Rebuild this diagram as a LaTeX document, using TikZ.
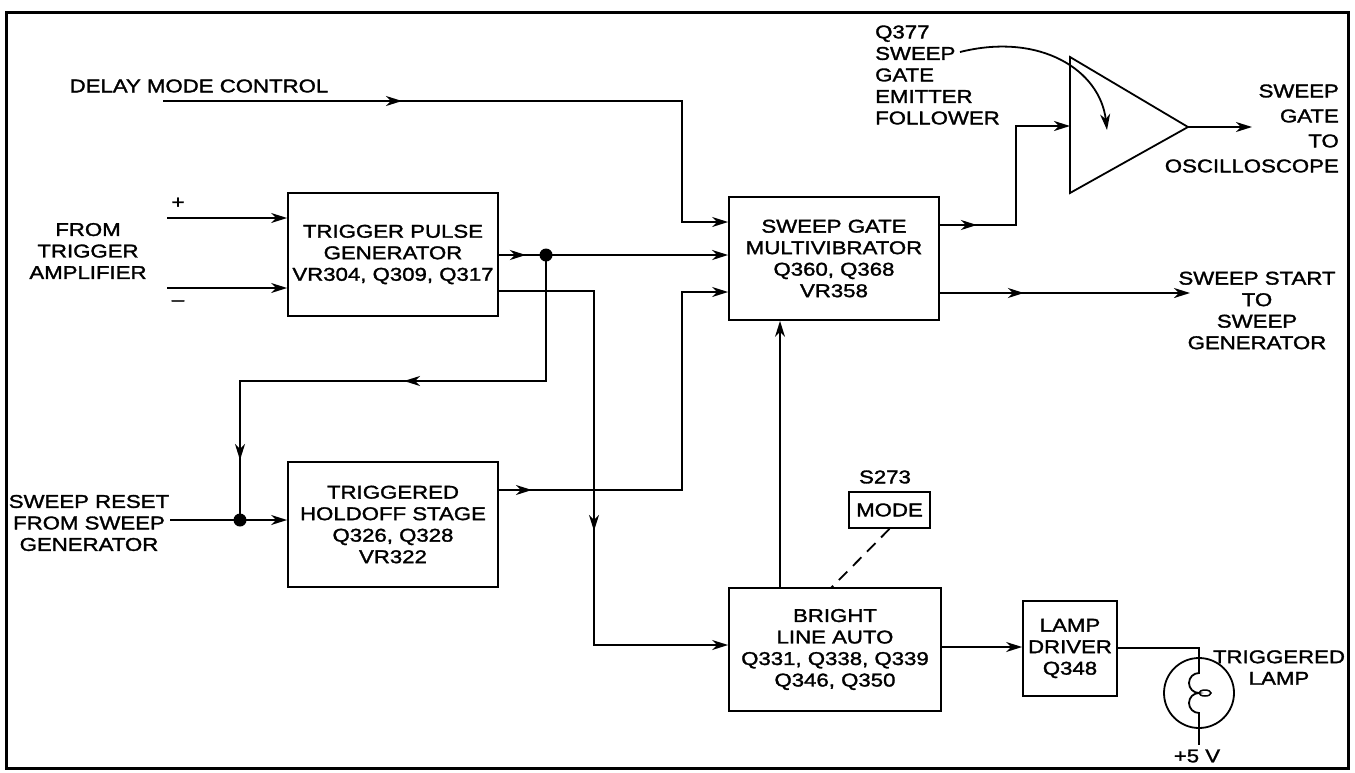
\documentclass[tikz,border=0pt]{standalone}
\usepackage{fontspec}
\setmainfont{Liberation Sans}[FakeStretch=1.2,FakeBold=1.6]
\usetikzlibrary{arrows.meta,decorations.markings,calc}
\tikzset{
  lbl/.style={font=\fontsize{18.5}{21.5}\selectfont, align=center, inner sep=0pt},
  blk/.style={draw, line width=1.8pt, lbl},
  sig/.style={line width=1.8pt},
  tip/.style={-{Stealth[length=16pt,width=10pt,inset=5pt]}},
  mk/.style={postaction={decorate}, decoration={markings, mark=at position #1 with {\arrow{Stealth[length=16pt,width=10pt,inset=5pt]}}}},
  mkk/.style 2 args={postaction={decorate}, decoration={markings,
     mark=at position #1 with {\arrow{Stealth[length=16pt,width=10pt,inset=5pt]}},
     mark=at position #2 with {\arrow{Stealth[length=16pt,width=10pt,inset=5pt]}}}},
  jdot/.style={circle, fill, inner sep=0pt, minimum size=13pt}
}
\begin{document}
\begin{tikzpicture}[x=1pt,y=-1pt]
\useasboundingbox (0,0) rectangle (1355,772);
% frame
\draw[line width=3pt] (6,12) rectangle (1348,768);

% blocks
\node[blk, minimum width=210pt, minimum height=123pt] (tpg) at (393,254.5) {TRIGGER PULSE\\GENERATOR\\VR304, Q309, Q317};
\node[blk, minimum width=210pt, minimum height=125pt] (ths) at (393,524.5) {TRIGGERED\\HOLDOFF STAGE\\Q326, Q328\\VR322};
\node[blk, minimum width=210pt, minimum height=123pt] (sg) at (834,258.5) {SWEEP GATE\\MULTIVIBRATOR\\Q360, Q368\\VR358};
\node[blk, minimum width=212pt, minimum height=123pt] (bla) at (835,649.5) {BRIGHT\\LINE AUTO\\Q331, Q338, Q339\\Q346, Q350};
\node[blk, minimum width=94pt, minimum height=95pt] (ld) at (1070,648.5) {LAMP\\DRIVER\\Q348};
\node[blk, minimum width=81pt, minimum height=36pt] (mode) at (889.5,510) {MODE};
\node[circle, draw, line width=1.8pt, minimum size=70pt, inner sep=0pt] (lamp) at (1199,693) {};

% amplifier
\coordinate (ampL) at (1070,126);
\coordinate (ampT) at (1188,127);
\draw[line width=1.8pt, line join=miter] (1070,57) -- (ampT) -- (1070,193) -- cycle;

% labels
\node[lbl] (delay) at (199,86) {DELAY MODE CONTROL};
\node[lbl] (plus) at (178,203) {+};
\node[lbl] (minus) at (178,303) {–};
\node[lbl] (fta) at (88,251) {FROM\\TRIGGER\\AMPLIFIER};
\node[lbl] (srs) at (89,523) {SWEEP RESET\\FROM SWEEP\\GENERATOR};
\node[lbl, anchor=west, align=left] (q377) at (875,75) {Q377\\SWEEP\\GATE\\EMITTER\\FOLLOWER};
\node[lbl, anchor=east, align=right, font=\fontsize{18.5}{25}\selectfont] (sgo) at (1339,128.5) {SWEEP\\GATE\\TO\\OSCILLOSCOPE};
\node[lbl] (ssg) at (1257,310.5) {SWEEP START\\TO\\SWEEP\\GENERATOR};
\node[lbl] (s273) at (885,477) {S273};
\node[lbl] (tl) at (1279,667.5) {TRIGGERED\\LAMP};
\node[lbl] (p5) at (1197,756) {+5 V};

% coordinates
\coordinate (dIn) at (163,101);
\coordinate (pIn) at (167,218);
\coordinate (mIn) at (167,288);
\coordinate (srIn) at (170,520);
\coordinate (x2) at (594,0);
\coordinate (x3) at (682,0);
\coordinate (x5) at (1016,0);
\coordinate (x6) at (780,0);
\coordinate (sgOut) at (1252,127);
\coordinate (ssOut) at (1190,293);
\coordinate (p5top) at (1199,745);
\coordinate (ptrS) at (960,52);
\coordinate (ptrE) at (1107,130);

% junctions
\node[jdot] (j1) at (546,255) {};
\node[jdot] (j2) at (240,520) {};

% connectors
\draw[sig, tip] (pIn) -- (pIn -| tpg.west);
\draw[sig, tip] (mIn) -- (mIn -| tpg.west);
\draw[sig, tip, mk=239pt] (dIn) -- (dIn -| x3) -- (x3 |- 0,222) -- (sg.west |- 0,222);
\draw[line width=2.4pt, tip, mk=27pt] (tpg.east |- j1) -- (sg.west |- j1);
\draw[sig, mkk={268pt}{511pt}] (j1.center) -- (546,381) -- (240,381) -- (j2.center);
\draw[sig, tip] (srIn) -- (srIn -| ths.west);
\draw[sig, tip, mk=33pt] (ths.east |- 0,490) -- (x3 |- 0,490) -- (x3 |- 0,292) -- (sg.west |- 0,292);
\draw[sig, tip, mk=335pt] (tpg.east |- 0,291) -- (x2 |- 0,291) -- (x2 |- 0,645) -- (bla.west |- 0,645);
\draw[line width=2.4pt, tip, mk=37pt] (sg.east |- 0,225) -- (x5 |- 0,225) -- (x5 |- ampL) -- (ampL);
\draw[sig, tip] (ampT) -- (sgOut);
\draw[line width=2.4pt, tip, mk=84pt] (sg.east |- ssOut) -- (ssOut);
\draw[sig, tip] (x6 |- bla.north) -- (x6 |- sg.south);
\draw[sig, dash pattern=on 12pt off 8pt] (mode.south) -- (831,588);
\draw[sig, tip] (bla.east |- 0,647) -- (ld.west |- 0,647);
\draw[sig] (ld.east |- 0,648) -- (1199,648) -- (lamp.north);
\draw[sig] (lamp.south) -- (p5top);
% filament
\draw[sig] (lamp.north) -- (1199,673) arc[start angle=270, end angle=90, radius=10]
  arc[start angle=270, end angle=90, radius=10] -- (lamp.south);
\draw[line width=1.5pt] (1205,693) ellipse[x radius=6, y radius=3];
% curved pointer
\draw[sig, tip] (ptrS) .. controls (1040,32) and (1100,70) .. (ptrE);
\end{tikzpicture}
\end{document}
